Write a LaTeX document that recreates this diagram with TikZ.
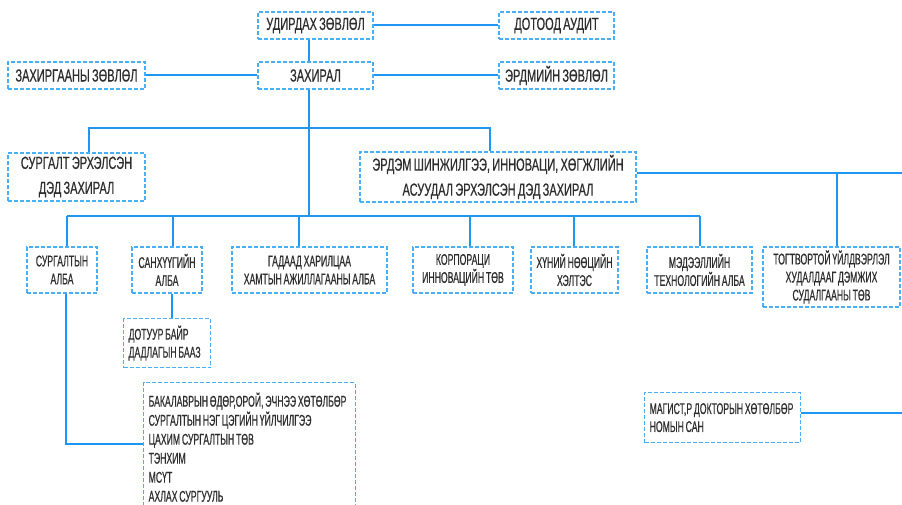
\documentclass[tikz,border=0pt]{standalone}
\usepackage{fontspec}
\setmainfont{Liberation Sans}[FakeStretch=0.56, FakeBold=0.5, WordSpace=0.75]
\newfontfamily\kopfont{Liberation Sans}[FakeStretch=0.63, FakeBold=0.5, WordSpace=0.75]
\definecolor{lijn}{RGB}{30,150,243}
\definecolor{rand}{RGB}{72,174,246}
\definecolor{tekst}{RGB}{45,45,45}
\tikzset{
  afd/.style={draw=rand, dash pattern=on 4pt off 2pt, line width=1.3pt, text=tekst,
    align=center, inner sep=3pt, font=\fontsize{15.5}{18}\selectfont},
  hoofd/.style={afd, font=\kopfont\fontsize{17.5}{25}\selectfont},
  links/.style={align=left, anchor=north west},
  verb/.style={draw=lijn, line width=2pt},
}
\begin{document}
\begin{tikzpicture}[x=1pt, y=-1pt]
\useasboundingbox (0,0) rectangle (902,505);
\clip (0,0) rectangle (902,505);

% bestuur
\node[hoofd, minimum width=115, minimum height=27] (udirdah) at (315.5,25.5) {УДИРДАХ ЗӨВЛӨЛ};
\node[hoofd, minimum width=115, minimum height=27] (dotood) at (556.5,25.5) {ДОТООД АУДИТ};
\node[hoofd, minimum width=137, minimum height=27] (zahirgaa) at (76.5,75.5) {ЗАХИРГААНЫ ЗӨВЛӨЛ};
\node[hoofd, minimum width=115, minimum height=27] (zahiral) at (315.5,75.5) {ЗАХИРАЛ};
\node[hoofd, minimum width=115, minimum height=27] (erdmiin) at (556.5,75.5) {ЭРДМИЙН ЗӨВЛӨЛ};

\node[hoofd, minimum width=137, minimum height=48] (surgaltded) at (76.5,177) {СУРГАЛТ ЭРХЭЛСЭН\\ДЭД ЗАХИРАЛ};
\node[hoofd, minimum width=276, minimum height=48] (erdemded) at (498,177) {ЭРДЭМ ШИНЖИЛГЭЭ, ИННОВАЦИ, ХӨГЖЛИЙН\\АСУУДАЛ ЭРХЭЛСЭН ДЭД ЗАХИРАЛ};

% afdelingen
\node[afd, minimum width=70, minimum height=46] (surgaltyn) at (62,270) {СУРГАЛТЫН\\АЛБА};
\node[afd, minimum width=70, minimum height=46] (sanhuu) at (167,270) {САНХҮҮГИЙН\\АЛБА};
\node[afd, minimum width=155, minimum height=46] (gadaad) at (309.5,270) {ГАДААД ХАРИЛЦАА\\ХАМТЫН АЖИЛЛАГААНЫ АЛБА};
\node[afd, minimum width=100, minimum height=46] (korp) at (463,270) {КОРПОРАЦИ\\ИННОВАЦИЙН ТӨВ};
\node[afd, minimum width=87, minimum height=46] (hunii) at (574.5,270) {ХҮНИЙ НӨӨЦИЙН\\ХЭЛТЭС};
\node[afd, minimum width=105, minimum height=46] (medeel) at (699.5,270) {МЭДЭЭЛЛИЙН\\ТЕХНОЛОГИЙН АЛБА};
\node[afd, minimum width=137, minimum height=60] (togt) at (831.5,277) {ТОГТВОРТОЙ ҮЙЛДВЭРЛЭЛ\\ХУДАЛДААГ ДЭМЖИХ\\СУДАЛГААНЫ ТӨВ};

\node[afd, links, minimum height=49, inner xsep=5pt] (dotuur) at (123,318) {ДОТУУР БАЙР\\ДАДЛАГЫН БААЗ\rule{5pt}{0pt}};
\node[afd, links, minimum height=50, inner xsep=5pt] (magistr) at (644,392) {МАГИСТ,Р ДОКТОРЫН ХӨТӨЛБӨР\rule{2pt}{0pt}\\НОМЫН САН};
\node[afd, links, inner xsep=5pt, inner ysep=10pt, font=\fontsize{15.5}{19}\selectfont] (programs) at (143,382)
  {БАКАЛАВРЫН ӨДӨР,ОРОЙ, ЭЧНЭЭ ХӨТӨЛБӨР\rule{4pt}{0pt}\\СУРГАЛТЫН НЭГ ЦЭГИЙН ҮЙЛЧИЛГЭЭ\\ЦАХИМ СУРГАЛТЫН ТӨВ\\ТЭНХИМ\\МСҮТ\\АХЛАХ СУРГУУЛЬ};

% verbindingen
\coordinate (stam) at (308.5,216);
\coordinate (bus1l) at (89,128);
\coordinate (bus1r) at (490,128);
\coordinate (rechts1) at (902,173);
\coordinate (tak3) at (837,173);
\coordinate (rechts2) at (902,413);
\coordinate (hoek) at (66,444);
\coordinate (san) at (172,300);

\draw[verb] (udirdah) -- (dotood);
\draw[verb] (zahirgaa) -- (zahiral);
\draw[verb] (zahiral) -- (erdmiin);
\draw[verb] (stam |- udirdah.south) -- (stam |- zahiral.north);
\draw[verb] (stam |- zahiral.south) -- (stam);
\draw[verb] (bus1l |- surgaltded.north) -- (bus1l) -- (bus1r) -- (bus1r |- erdemded.north);

\draw[verb] (67,216) coordinate (b2l) -- (700,216) coordinate (b2r);
\foreach \n/\x in {surgaltyn/67, sanhuu/173, gadaad/299, korp/470, hunii/574, medeel/700}{
  \coordinate (d\n) at (\x,216);
  \draw[verb] (d\n) -- (d\n |- \n.north);
}

\draw[verb] (erdemded.east |- rechts1) -- (rechts1);
\draw[verb] (tak3) -- (tak3 |- togt.north);
\draw[verb] (hoek |- surgaltyn.south) -- (hoek) -- (hoek -| programs.west);
\draw[verb] (san |- sanhuu.south) -- (san |- dotuur.north);
\draw[verb] (magistr.east |- rechts2) -- (rechts2);
\end{tikzpicture}
\end{document}
